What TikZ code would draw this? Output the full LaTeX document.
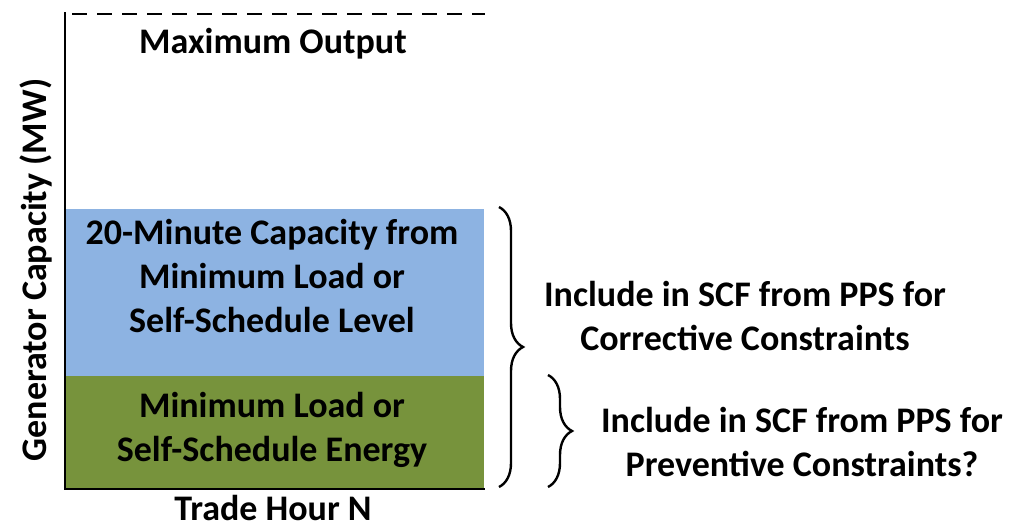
\documentclass[tikz,border=0pt]{standalone}
\usepackage{fontspec}
\setmainfont{Carlito}
\usetikzlibrary{decorations.pathreplacing}
\definecolor{capblue}{HTML}{8DB3E2}
\definecolor{mingreen}{HTML}{77933C}
\tikzset{
  lbl/.style={font=\bfseries\fontsize{36}{44}\selectfont, align=center, inner sep=0pt, text=black},
  axis/.style={line width=2.8pt, black},
  bracedraw/.style={line width=2.4pt, decorate, decoration={brace, amplitude=24pt}},
}
\begin{document}
\begin{tikzpicture}[x=1pt,y=-1pt]
\useasboundingbox (0,0) rectangle (1013,530);
% boxes
\fill[capblue] (66,209) rectangle (484,376);
\fill[mingreen] (66,376) rectangle (484,489);
% axes
\draw[axis] (65,12) -- (65,489) -- (485,489);
\draw[line width=2.4pt, dash pattern=on 15pt off 10pt] (72,14) -- (485,14);
% texts
\node[lbl] (maxout) at (273,44) {Maximum Output};
\node[lbl] (cap) at (272,276) {20-Minute Capacity from\\Minimum Load or\\Self-Schedule Level};
\node[lbl] (minload) at (272,430) {Minimum Load or\\Self-Schedule Energy};
\node[lbl] (xlab) at (273,508) {Trade Hour N};
\node[lbl, rotate=90] (ylab) at (36,270) {Generator Capacity (MW)};
\node[lbl] (corr) at (745,316) {Include in SCF from PPS for\\Corrective Constraints};
\node[lbl] (prev) at (802,442) {Include in SCF from PPS for\\Preventive Constraints?};
% braces
\coordinate (b1t) at (499,207);
\coordinate (b1b) at (499,487);
\coordinate (b2t) at (548,375);
\coordinate (b2b) at (548,487);
\draw[bracedraw] (b1t) -- (b1b);
\draw[bracedraw] (b2t) -- (b2b);
\end{tikzpicture}
\end{document}
